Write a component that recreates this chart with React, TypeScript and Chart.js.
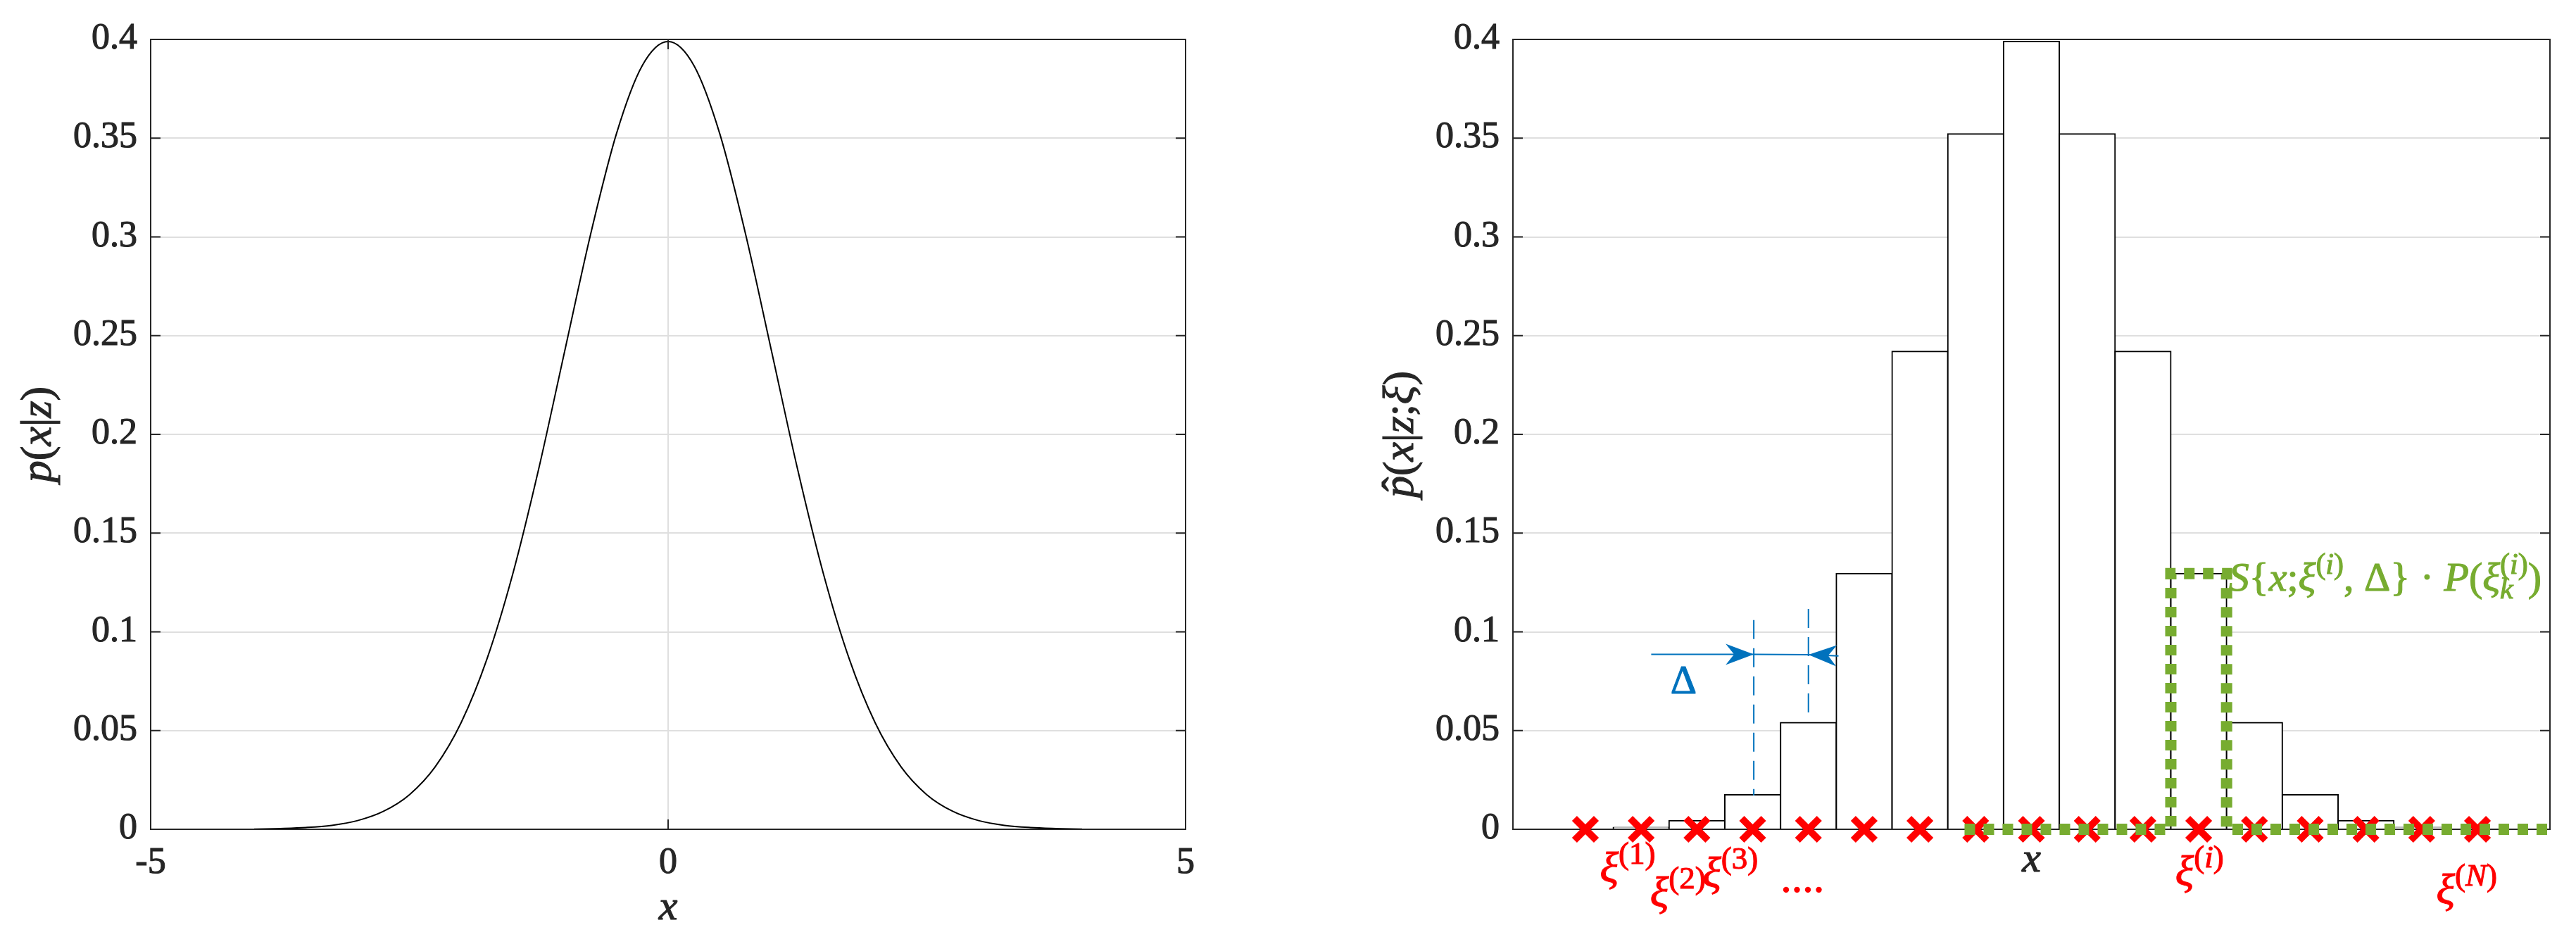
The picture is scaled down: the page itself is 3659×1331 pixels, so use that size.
import React, { useEffect, useRef } from 'react';
import { Chart, registerables } from 'chart.js';

Chart.register(...registerables);

// ---------------- data ----------------
const curveX = [-4, -3.75, -3.5, -3.25, -3, -2.75, -2.5, -2.25, -2, -1.75, -1.5, -1.25, -1, -0.75, -0.5, -0.25, 0,
  0.25, 0.5, 0.75, 1, 1.25, 1.5, 1.75, 2, 2.25, 2.5, 2.75, 3, 3.25, 3.5, 3.75, 4];
const curveY = [0.0001, 0.0004, 0.0009, 0.002, 0.0044, 0.0091, 0.0175, 0.0317, 0.054, 0.0863, 0.1295, 0.1826, 0.242, 0.3011, 0.3521, 0.3867, 0.3989,
  0.3867, 0.3521, 0.3011, 0.242, 0.1826, 0.1295, 0.0863, 0.054, 0.0317, 0.0175, 0.0091, 0.0044, 0.002, 0.0009, 0.0004, 0.0001];

const binCenters = [-4, -3.5, -3, -2.5, -2, -1.5, -1, -0.5, 0, 0.5, 1, 1.5, 2, 2.5, 3, 3.5, 4];
const binHeights = [0.0001, 0.0009, 0.0044, 0.0175, 0.054, 0.1295, 0.242, 0.3521, 0.3989, 0.3521, 0.242, 0.1295, 0.054, 0.0175, 0.0044, 0.0009, 0.0001];
const sampleY = [0, 0, 0, 0, 0, 0, 0, 0, 0, 0, 0, 0, 0, 0, 0, 0, 0];

const kernelX = [-0.6, 1.25, 1.25, 1.75, 1.75, 4.65];
const kernelY = [0, 0, 0.1295, 0.1295, 0, 0];

const yTicks = [0, 0.05, 0.1, 0.15, 0.2, 0.25, 0.3, 0.35, 0.4];
const yTickLabels = ['0', '0.05', '0.1', '0.15', '0.2', '0.25', '0.3', '0.35', '0.4'];
const leftXTicks = [-5, 0, 5];
const leftXTickLabels = ['-5', '0', '5'];
const rightXRange = [-4.65, 4.65];

// annotation anchors (data units of the right panel)
const arrowInX = [-3.41, -2.49];
const arrowInY = [0.0886, 0.0886];
const arrowBackX = [-1.73, -2.0];
const arrowBackY = [0.0878, 0.0884];
const dashAX = -2.49;
const dashAY = [0.0171, 0.106];
const dashBX = -2.0;
const dashBY = [0.0558, 0.1116];
const deltaPos = [-3.12, 0.0688];
const sampleLabelX = [-3.87, -3.42, -2.95, 1.29, 3.63];
const sampleLabelY = [-0.0267, -0.0392, -0.0292, -0.0285, -0.0378];
const sampleLabelSup = ['1', '2', '3', 'i', 'N'];
const dotsPos = [-2.25, -0.0317];
const kernelLabelPos = [1.77, 0.1209];

// ---------------- styling ----------------
const FONT = '"Liberation Serif"';
const AX = '#262626';
const GRID = '#dfdfdf';
const BLUE = '#0072BD';
const GREEN = '#77AC30';
const RED = '#FF0000';
const TEXT_STROKE = 1.1;

type Seg = { t: string; it?: boolean; pos?: 'sup' | 'sub'; keep?: boolean; hat?: boolean };

function segFont(seg: Seg, size: number) {
  const s = seg.pos ? size * 0.72 : size;
  return `${seg.it ? 'italic ' : 'normal '}${Math.round(s)}px ${FONT}`;
}
function measureRich(ctx: CanvasRenderingContext2D, segs: Seg[], size: number) {
  let w = 0;
  for (const s of segs) {
    ctx.font = segFont(s, size);
    if (!s.keep) w += ctx.measureText(s.t).width;
  }
  return w;
}
function heavyText(ctx: CanvasRenderingContext2D, t: string, x: number, y: number) {
  ctx.fillText(t, x, y);
  ctx.strokeText(t, x, y);
}
function drawRich(ctx: CanvasRenderingContext2D, segs: Seg[], x: number, y: number, size: number, color: string, align: 'left' | 'center') {
  ctx.save();
  ctx.fillStyle = color;
  ctx.strokeStyle = color;
  ctx.lineWidth = TEXT_STROKE;
  ctx.setLineDash([]);
  ctx.textAlign = 'left';
  ctx.textBaseline = 'alphabetic';
  let cx = align === 'center' ? x - measureRich(ctx, segs, size) / 2 : x;
  for (const s of segs) {
    ctx.font = segFont(s, size);
    const w = ctx.measureText(s.t).width;
    const dy = s.pos === 'sup' ? -0.42 * size : s.pos === 'sub' ? 0.2 * size : 0;
    heavyText(ctx, s.t, cx, y + dy);
    if (s.hat) {
      ctx.font = `normal ${size}px ${FONT}`;
      ctx.textAlign = 'center';
      heavyText(ctx, '\u02C6', cx + w * 0.5 + size * 0.06, y + dy - size * 0.02);
      ctx.textAlign = 'left';
    }
    if (!s.keep) cx += w;
  }
  ctx.restore();
}

function drawFrame(chart: any, xTicks: number[]) {
  const { ctx, chartArea: a } = chart;
  const ys = chart.scales.y;
  const xs = chart.scales.x;
  ctx.save();
  ctx.strokeStyle = AX;
  ctx.lineWidth = 2;
  ctx.beginPath();
  for (const v of yTicks) {
    const py = ys.getPixelForValue(v);
    ctx.moveTo(a.left, py); ctx.lineTo(a.left + 14, py);
    ctx.moveTo(a.right, py); ctx.lineTo(a.right - 14, py);
  }
  for (const v of xTicks) {
    const px = xs.getPixelForValue(v);
    ctx.moveTo(px, a.bottom); ctx.lineTo(px, a.bottom - 14);
    ctx.moveTo(px, a.top); ctx.lineTo(px, a.top + 14);
  }
  ctx.stroke();
  ctx.strokeRect(a.left, a.top, a.right - a.left, a.bottom - a.top);
  ctx.restore();
}

function drawYTickLabels(chart: any) {
  const { ctx, chartArea: a } = chart;
  const ys = chart.scales.y;
  ctx.save();
  ctx.fillStyle = AX;
  ctx.strokeStyle = AX;
  ctx.lineWidth = TEXT_STROKE;
  ctx.font = `normal 52px ${FONT}`;
  ctx.textAlign = 'right';
  ctx.textBaseline = 'alphabetic';
  yTicks.forEach((v, i) => {
    heavyText(ctx, yTickLabels[i], a.left - 19, ys.getPixelForValue(v) + 13);
  });
  ctx.restore();
}

function drawYTitle(chart: any, segs: Seg[]) {
  const { ctx, chartArea: a } = chart;
  ctx.save();
  ctx.translate(a.left - 142, (a.top + a.bottom) / 2);
  ctx.rotate(-Math.PI / 2);
  drawRich(ctx, segs, 0, 0, 62, AX, 'center');
  ctx.restore();
}

function arrowHead(ctx: CanvasRenderingContext2D, tx: number, ty: number, fx: number, fy: number) {
  const L = 40, W = 15, N = 28;
  const dx = tx - fx, dy = ty - fy;
  const d = Math.hypot(dx, dy) || 1;
  const ux = dx / d, uy = dy / d;
  const nx = -uy, ny = ux;
  ctx.beginPath();
  ctx.moveTo(tx, ty);
  ctx.lineTo(tx - ux * L + nx * W, ty - uy * L + ny * W);
  ctx.lineTo(tx - ux * N, ty - uy * N);
  ctx.lineTo(tx - ux * L - nx * W, ty - uy * L - ny * W);
  ctx.closePath();
  ctx.fill();
}

const leftPlugin = {
  id: 'leftDecor',
  afterDatasetsDraw(chart: any) {
    drawFrame(chart, leftXTicks);
  },
  afterDraw(chart: any) {
    const { ctx } = chart;
    const xs = chart.scales.x;
    drawYTickLabels(chart);
    ctx.save();
    ctx.fillStyle = AX;
    ctx.strokeStyle = AX;
    ctx.lineWidth = TEXT_STROKE;
    ctx.font = `normal 52px ${FONT}`;
    ctx.textAlign = 'center';
    ctx.textBaseline = 'alphabetic';
    leftXTicks.forEach((v, i) => heavyText(ctx, leftXTickLabels[i], xs.getPixelForValue(v), 1240));
    ctx.restore();
    drawRich(ctx, [{ t: 'x', it: true }], (chart.chartArea.left + chart.chartArea.right) / 2, 1306, 60, AX, 'center');
    drawYTitle(chart, [{ t: 'p', it: true }, { t: '(' }, { t: 'x', it: true }, { t: '|' }, { t: 'z', it: true }, { t: ')' }]);
  },
};

const rightPlugin = {
  id: 'rightDecor',
  afterDatasetDraw(chart: any, args: any) {
    if (args.index === 2) drawFrame(chart, []);
  },
  afterDraw(chart: any) {
    const { ctx } = chart;
    const xs = chart.scales.x;
    const ys = chart.scales.y;
    const X = (v: number) => xs.getPixelForValue(v);
    const Y = (v: number) => ys.getPixelForValue(v);
    drawYTickLabels(chart);
    drawRich(ctx, [{ t: 'x', it: true }], (chart.chartArea.left + chart.chartArea.right) / 2, 1238, 60, AX, 'center');
    drawYTitle(chart, [{ t: 'p', it: true, hat: true }, { t: '(' }, { t: 'x', it: true }, { t: '|' }, { t: 'z', it: true }, { t: ';' }, { t: '\u03BE', it: true }, { t: ')' }]);

    // blue Delta annotation
    ctx.save();
    ctx.strokeStyle = BLUE;
    ctx.fillStyle = BLUE;
    ctx.lineWidth = 2;
    ctx.setLineDash([27, 13]);
    ctx.beginPath();
    ctx.moveTo(X(dashAX), Y(dashAY[1])); ctx.lineTo(X(dashAX), Y(dashAY[0]));
    ctx.moveTo(X(dashBX), Y(dashBY[1])); ctx.lineTo(X(dashBX), Y(dashBY[0]));
    ctx.stroke();
    ctx.setLineDash([]);
    ctx.beginPath();
    ctx.moveTo(X(arrowInX[0]), Y(arrowInY[0])); ctx.lineTo(X(arrowInX[1]), Y(arrowInY[1]));
    ctx.lineTo(X(arrowBackX[1]), Y(arrowBackY[1]));
    ctx.moveTo(X(arrowBackX[0]), Y(arrowBackY[0])); ctx.lineTo(X(arrowBackX[1]), Y(arrowBackY[1]));
    ctx.stroke();
    arrowHead(ctx, X(arrowInX[1]), Y(arrowInY[1]), X(arrowInX[0]), Y(arrowInY[0]));
    arrowHead(ctx, X(arrowBackX[1]), Y(arrowBackY[1]), X(arrowBackX[0]), Y(arrowBackY[0]));
    ctx.restore();
    drawRich(ctx, [{ t: '\u0394' }], X(deltaPos[0]), Y(deltaPos[1]), 58, BLUE, 'center');

    // red sample labels
    sampleLabelX.forEach((xv, i) => {
      const sup = sampleLabelSup[i];
      const isNum = /[0-9]/.test(sup);
      drawRich(ctx, [
        { t: '\u03BE', it: true },
        { t: '(', pos: 'sup' },
        { t: sup, it: !isNum, pos: 'sup' },
        { t: ')', pos: 'sup' },
      ], X(xv), Y(sampleLabelY[i]), 62, RED, 'left');
    });
    drawRich(ctx, [{ t: '....' }], X(dotsPos[0]), Y(dotsPos[1]), 62, RED, 'left');

    // green kernel label
    drawRich(ctx, [
      { t: 'S', it: true }, { t: '{' }, { t: 'x', it: true }, { t: ';' }, { t: '\u03BE', it: true },
      { t: '(', pos: 'sup' }, { t: 'i', it: true, pos: 'sup' }, { t: ')', pos: 'sup' },
      { t: ', ' }, { t: '\u0394' }, { t: '}' }, { t: ' \u00B7 ' }, { t: 'P', it: true }, { t: '(' },
      { t: '\u03BE', it: true }, { t: 'k', it: true, pos: 'sub', keep: true },
      { t: '(', pos: 'sup' }, { t: 'i', it: true, pos: 'sup' }, { t: ')', pos: 'sup' }, { t: ')' },
    ], X(kernelLabelPos[0]), Y(kernelLabelPos[1]), 58, GREEN, 'left');
  },
};

function gridOpts() {
  return { color: GRID, lineWidth: 2, drawTicks: false, offset: false };
}

export default function App() {
  const leftRef = useRef<HTMLCanvasElement>(null);
  const rightRef = useRef<HTMLCanvasElement>(null);

  useEffect(() => {
    const c1 = new Chart(leftRef.current as HTMLCanvasElement, {
      type: 'line',
      data: {
        datasets: [{
          data: curveX.map((x, i) => ({ x, y: curveY[i] })),
          borderColor: '#000000',
          borderWidth: 2,
          pointRadius: 0,
          cubicInterpolationMode: 'monotone',
          fill: false,
        }],
      },
      options: {
        animation: false,
        responsive: false,
        devicePixelRatio: 1,
        events: [],
        layout: { padding: { left: 0, top: 56, right: 146, bottom: 0 } },
        plugins: { legend: { display: false }, tooltip: { enabled: false }, title: { display: false } },
        scales: {
          x: {
            type: 'linear', min: -5, max: 5, offset: false,
            afterBuildTicks: (s: any) => { s.ticks = leftXTicks.map((v) => ({ value: v })); },
            afterFit: (s: any) => { s.height = 153; },
            ticks: { display: false },
            grid: gridOpts(),
            border: { display: false },
          },
          y: {
            type: 'linear', min: 0, max: 0.4,
            afterBuildTicks: (s: any) => { s.ticks = yTicks.map((v) => ({ value: v })); },
            afterFit: (s: any) => { s.width = 214; },
            ticks: { display: false },
            grid: gridOpts(),
            border: { display: false },
          },
        },
      } as any,
      plugins: [leftPlugin],
    } as any);

    const c2 = new Chart(rightRef.current as HTMLCanvasElement, {
      type: 'bar',
      data: {
        datasets: [
          {
            type: 'line',
            data: kernelX.map((x, i) => ({ x, y: kernelY[i] })),
            borderColor: GREEN,
            borderWidth: 16,
            borderDash: [15, 12],
            borderCapStyle: 'butt',
            borderJoinStyle: 'miter',
            pointRadius: 0,
            tension: 0,
            fill: false,
            clip: false,
          },
          {
            type: 'line',
            data: binCenters.map((x, i) => ({ x, y: sampleY[i] })),
            showLine: false,
            pointStyle: 'crossRot',
            pointRadius: 22,
            pointBorderWidth: 10,
            pointBorderColor: RED,
            pointBackgroundColor: RED,
            clip: false,
          },
          {
            type: 'bar',
            data: binCenters.map((x, i) => ({ x, y: binHeights[i] })),
            backgroundColor: '#ffffff',
            borderColor: '#000000',
            borderWidth: 2,
            borderSkipped: 'start',
            inflateAmount: 1,
            barPercentage: 1,
            categoryPercentage: 1,
          },
        ],
      },
      options: {
        animation: false,
        responsive: false,
        devicePixelRatio: 1,
        events: [],
        layout: { padding: { left: 0, top: 56, right: 37, bottom: 0 } },
        plugins: { legend: { display: false }, tooltip: { enabled: false }, title: { display: false } },
        scales: {
          x: {
            type: 'linear', min: rightXRange[0], max: rightXRange[1], offset: false,
            afterBuildTicks: (s: any) => { s.ticks = [{ value: 0 }]; },
            afterFit: (s: any) => { s.height = 153; },
            ticks: { display: false },
            grid: { display: false, offset: false },
            border: { display: false },
          },
          y: {
            type: 'linear', min: 0, max: 0.4,
            afterBuildTicks: (s: any) => { s.ticks = yTicks.map((v) => ({ value: v })); },
            afterFit: (s: any) => { s.width = 319; },
            ticks: { display: false },
            grid: gridOpts(),
            border: { display: false },
          },
        },
      } as any,
      plugins: [rightPlugin],
    } as any);

    let alive = true;
    const fonts: any = (document as any).fonts;
    if (fonts && fonts.load) {
      Promise.all([
        fonts.load(`normal 52px ${FONT}`, '0.123456789\u0394{}()|;'),
        fonts.load(`italic 56px ${FONT}`, 'pxzSPk\u03BEiN'),
      ]).then(() => {
        if (alive) { c1.draw(); c2.draw(); }
      }).catch(() => {});
    }

    return () => { alive = false; c1.destroy(); c2.destroy(); };
  }, []);

  return (
    <div style={{ position: 'fixed', left: 0, top: 0, width: 3659, height: 1331, background: '#ffffff' }}>
      <canvas ref={leftRef} width={1830} height={1331} style={{ position: 'absolute', left: 0, top: 0, width: 1830, height: 1331 }} />
      <canvas ref={rightRef} width={1829} height={1331} style={{ position: 'absolute', left: 1830, top: 0, width: 1829, height: 1331 }} />
    </div>
  );
}
